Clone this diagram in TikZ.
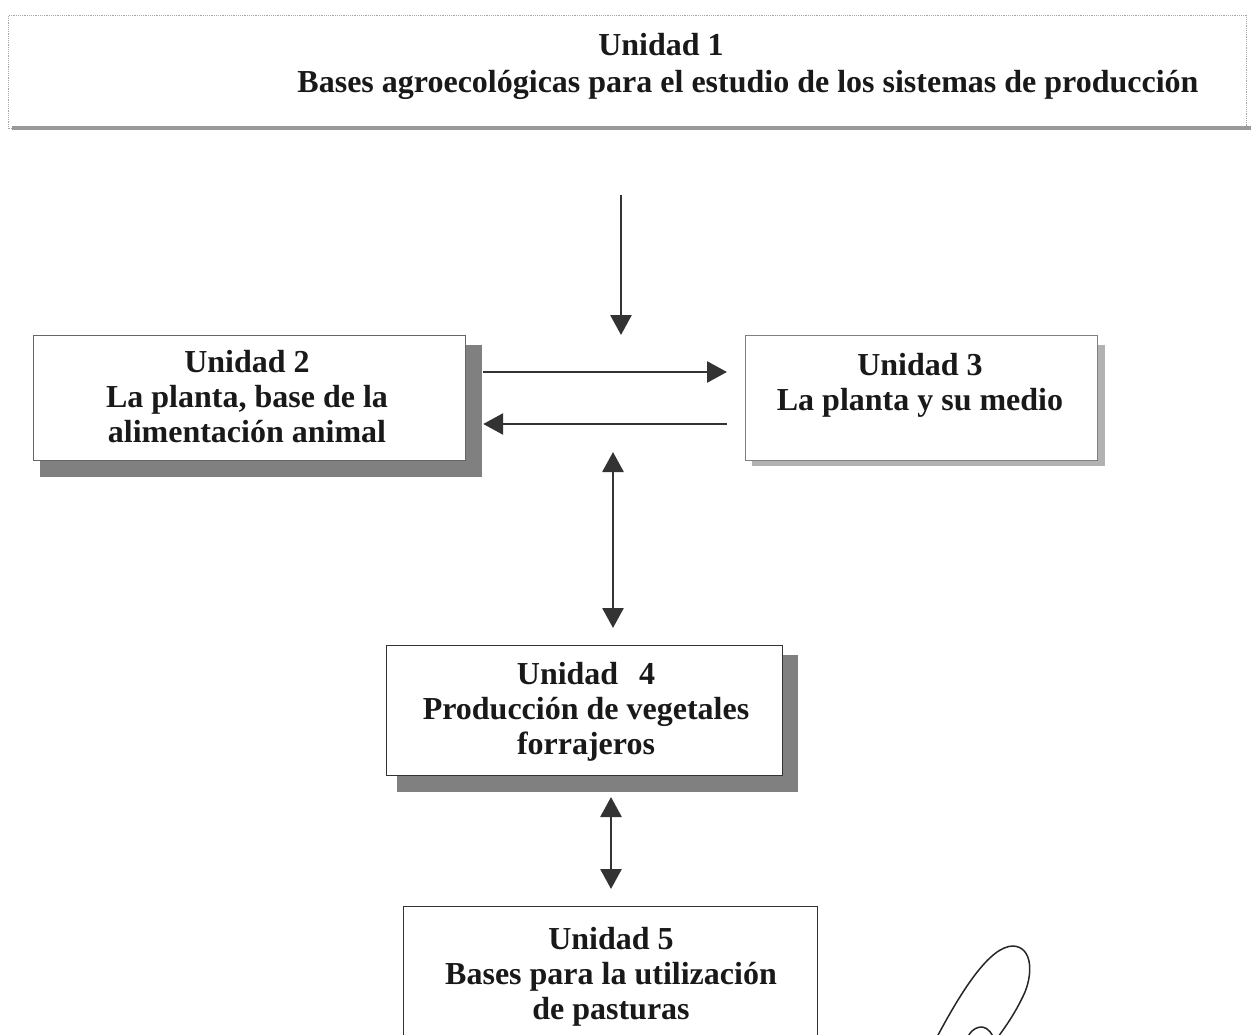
\documentclass[tikz,border=0pt]{standalone}
\usepackage{fontspec}
\setmainfont{Liberation Serif}
\usetikzlibrary{arrows.meta,calc}
\begin{document}
\begin{tikzpicture}[x=1pt,y=-1pt,
  box/.style={draw=black!60, line width=1.2pt, inner sep=0pt, anchor=north west, fill=white},
  shad/.style={fill=black!50},
  lshad/.style={fill=black!30},
  txt/.style={font=\bfseries\fontsize{32}{35}\selectfont, align=center, anchor=base, inner sep=0pt, text=black!90},
  arr/.style={line width=2.8pt, draw=black!80, -{Triangle[length=20pt,width=21pt]}},
  darr/.style={line width=2.8pt, draw=black!80, {Triangle[length=20pt,width=21pt]}-{Triangle[length=20pt,width=21pt]}},
  sig/.style={line width=1.5pt, draw=black!85, line cap=round}
]
\useasboundingbox (0,0) rectangle (1251,1035);

% Unidad 1 frame
\node[box, draw=black!35, densely dotted, line width=0.8pt, minimum width=1238pt, minimum height=113pt] (u1) at (8,15) {};
\fill[fill=black!40] (12,126) rectangle (1251,130);
\node[txt] (t1a) at (661,56) {Unidad 1};
\node[txt] (t1b) at (748,93) {Bases agroecológicas para el estudio de los sistemas de producción};

% shadows
\fill[shad] (465,345) rectangle (482,477);
\fill[shad] (40,460) rectangle (482,477);
\fill[lshad] (1097,345) rectangle (1105,466);
\fill[lshad] (752,460) rectangle (1105,466);
\fill[shad] (782,655) rectangle (798,792);
\fill[shad] (397,775) rectangle (798,792);

% boxes
\node[box, minimum width=432pt, minimum height=125pt] (u2) at (33,335) {};
\node[box, draw=black!50, minimum width=352pt, minimum height=125pt] (u3) at (745,335) {};
\node[box, draw=black!80, minimum width=396pt, minimum height=130pt] (u4) at (386,645) {};
\node[box, draw=black!80, minimum width=414pt, minimum height=140pt] (u5) at (403,906) {};

% texts (base = baseline of last line)
\node[txt] (t2) at (247,442) {Unidad 2\\La planta, base de la\\alimentación animal};
\node[txt] (t3) at (920,410) {Unidad 3\\La planta y su medio};
\node[txt] (t4) at (586,754) {Unidad\hspace{0.65em}4\\Producción de vegetales\\forrajeros};
\node[txt] (t5) at (611,1019) {Unidad 5\\Bases para la utilización\\de pasturas};

% connectors
\coordinate (d0) at (621,195);
\coordinate (d1) at (621,335);
\draw[arr] (d0) -- (d1);
\draw[arr] ($(u2.north east)+(17,37)$) -- ($(u3.north west)+(-18,37)$);
\draw[arr] ($(u3.north west)+(-18,89)$) -- ($(u2.north east)+(17,89)$);
\draw[darr] ($(u4.north west)+(227,-193)$) -- ($(u4.north west)+(227,-17)$);
\draw[darr] ($(u5.north west)+(208,-109)$) -- ($(u5.north west)+(208,-17)$);

% signature fragment
\draw[sig] (937,1037) .. controls (962,990) and (990,946) .. (1013,946)
  .. controls (1032,947) and (1033,972) .. (1025,992)
  .. controls (1016,1012) and (1006,1026) .. (998,1037);
\draw[sig] (968,1037) .. controls (971,1028) and (986,1020) .. (993,1037);
\end{tikzpicture}
\end{document}
